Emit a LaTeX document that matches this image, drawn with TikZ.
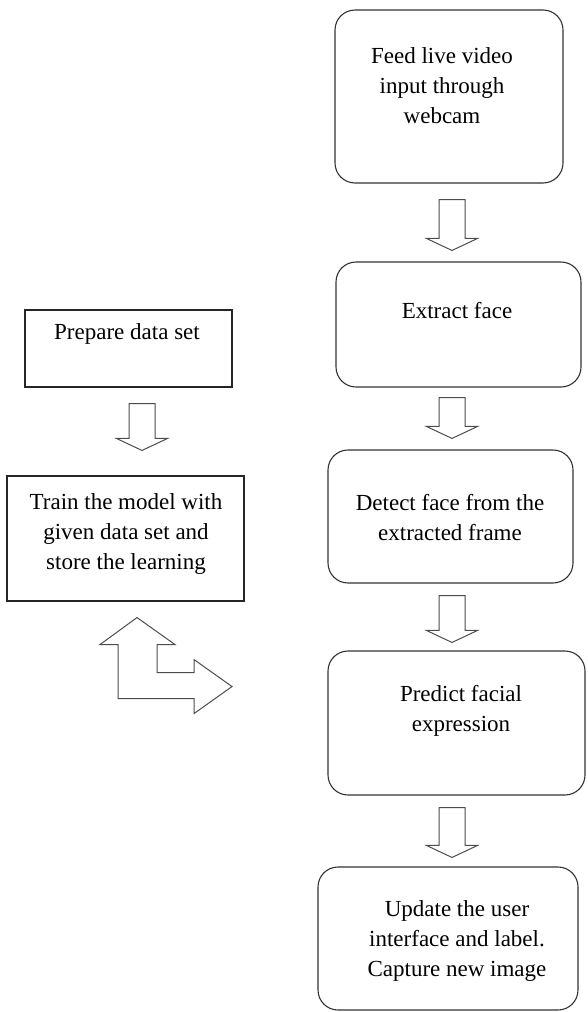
\documentclass[tikz,border=0pt]{standalone}
\usepackage{fontspec}
\setmainfont{Liberation Serif}
\usetikzlibrary{calc}

% hollow block arrow pointing down: from node, to node, column, top gap, tip gap
\newcommand{\blockdown}[5]{%
  \draw[blockarrow] ($(#1.south -| #3)+(-13,#4)$) -- ($(#1.south -| #3)+(13,#4)$)
    -- ($(#2.north -| #3)+(13,-#5-12)$) -- ($(#2.north -| #3)+(25.5,-#5-12)$)
    -- ($(#2.north -| #3)+(0,-#5)$) -- ($(#2.north -| #3)+(-25.5,-#5-12)$)
    -- ($(#2.north -| #3)+(-13,-#5-12)$) -- cycle;}

\begin{document}
\begin{tikzpicture}[x=1pt,y=-1pt,
	rbox/.style={draw=black!80,line width=1.1pt,rounded corners=20pt,inner sep=0pt},
	sbox/.style={draw=black!85,line width=1.1pt,inner sep=0pt},
	txt/.style={align=center,inner sep=0pt,font=\fontsize{23}{30}\selectfont},
	blockarrow/.style={draw=black!70,line width=1pt,fill=white,line join=miter}]
	\useasboundingbox (0,0) rectangle (587,1012);
	% right column
	\node[rbox,minimum width=228,minimum height=173] (feed) at (449,96.5) {};
	\node[txt] (feedtxt) at (442,86) {Feed live video\\input through\\webcam};
	\node[rbox,minimum width=245,minimum height=125] (extract) at (458.5,324.5) {};
	\node[txt] (extracttxt) at (457,311) {Extract face};
	\node[rbox,minimum width=245,minimum height=133] (detect) at (450.5,516.5) {};
	\node[txt] (detecttxt) at (450,518) {Detect face from the\\extracted frame};
	\node[rbox,minimum width=257,minimum height=144] (predict) at (456.5,723) {};
	\node[txt] (predicttxt) at (461,711) {Predict facial\\expression};
	\node[rbox,minimum width=260,minimum height=143] (update) at (448,938.5) {};
	\node[txt] (updatetxt) at (457,941) {Update the user\\interface and label.\\Capture new image};
	% left column
	\node[sbox,minimum width=207,minimum height=77] (prepare) at (128.5,348.5) {};
	\node[txt] (preparetxt) at (127,334) {Prepare data set};
	\node[sbox,minimum width=237,minimum height=125] (train) at (125.5,538.5) {};
	\node[txt] (traintxt) at (126,533.5) {Train the model with\\given data set and\\store the learning};
	% arrows
	\coordinate (rcol) at (452,0);
	\coordinate (lcol) at (142,0);
	\blockdown{feed}{extract}{rcol}{16}{11}
	\blockdown{extract}{detect}{rcol}{10}{11}
	\blockdown{detect}{predict}{rcol}{12}{8}
	\blockdown{predict}{update}{rcol}{12}{9}
	\blockdown{prepare}{train}{lcol}{16}{25}
	\coordinate (bend) at ($(train.south)+(11.5,16)$);
	\draw[blockarrow,shift={(bend)}] (0,0) -- (38,27) -- (20,27) -- (20,55) -- (57,55) -- (57,42)
		-- (95,69) -- (57,96) -- (57,81) -- (-19,81) -- (-19,27) -- (-37,27) -- cycle;
\end{tikzpicture}
\end{document}
